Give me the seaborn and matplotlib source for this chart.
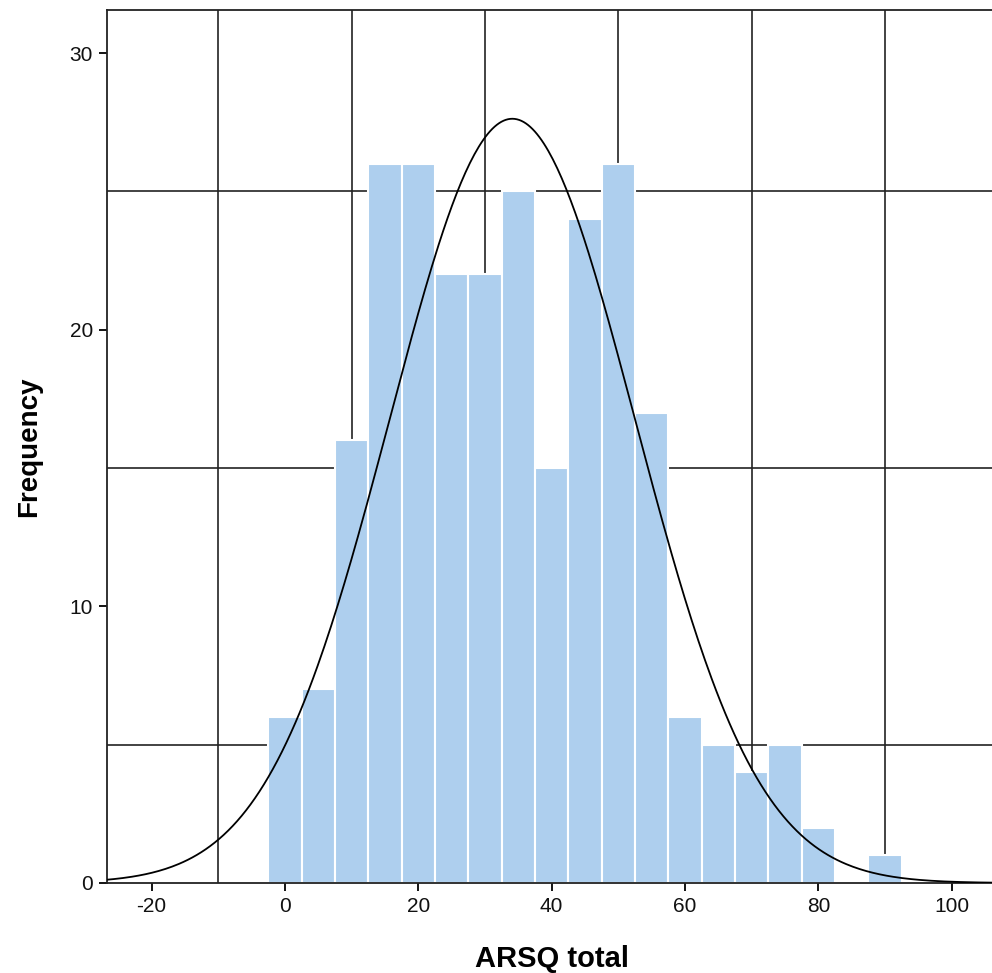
import numpy as np
import pandas as pd
import matplotlib.pyplot as plt
import seaborn as sns
from matplotlib.ticker import MultipleLocator

# bin centres (width 5) and counts
bin_centers = [0, 5, 10, 15, 20, 25, 30, 35, 40, 45, 50, 55, 60, 65, 70, 75, 80, 85, 90]
counts = [6, 7, 16, 26, 26, 22, 22, 25, 15, 24, 26, 17, 6, 5, 4, 5, 2, 0, 1]
bin_width = 5

x_ticks = [-20, 0, 20, 40, 60, 80, 100]
y_ticks = [0, 10, 20, 30]

df = pd.DataFrame({'ARSQ total': bin_centers, 'n': counts})

sns.set_style('white')
plt.rcParams['font.family'] = 'Liberation Sans'
plt.rcParams['axes.unicode_minus'] = False

fig = plt.figure(figsize=(9.92, 9.73), dpi=100)
ax = fig.add_axes([107 / 992, 90 / 973, 885 / 992, 873 / 973])

sns.histplot(data=df, x='ARSQ total', weights='n', binwidth=bin_width,
             binrange=(bin_centers[0] - bin_width / 2, bin_centers[-1] + bin_width / 2),
             ax=ax, color='#aecfee', alpha=1, edgecolor='white', linewidth=1.5, zorder=2)

# normal curve fitted to the data
N = sum(counts)
mean = np.average(bin_centers, weights=counts)
sd = np.sqrt(np.sum(np.array(counts) * (np.array(bin_centers) - mean) ** 2) / (N - 1))
xs = np.linspace(-27, 107, 400)
ys = N * bin_width * np.exp(-0.5 * ((xs - mean) / sd) ** 2) / (sd * np.sqrt(2 * np.pi))
sns.lineplot(x=xs, y=ys, ax=ax, color='black', linewidth=1.3, zorder=3)

ax.set_xlim(-26.7, 106.05)
ax.set_ylim(0, 31.56)
ax.set_xticks(x_ticks)
ax.set_yticks(y_ticks)
ax.xaxis.set_minor_locator(MultipleLocator(20, offset=10))
ax.yaxis.set_minor_locator(MultipleLocator(10, offset=5))
ax.grid(which='minor', color='#222222', linewidth=1.2)
ax.grid(which='major', visible=False)
ax.set_axisbelow(True)

ax.tick_params(which='major', direction='out', length=6, width=1.3, color='black',
               labelcolor='#111111', labelsize=15, pad=4, bottom=True, left=True)
ax.tick_params(which='minor', length=0)
for side in ['left', 'bottom', 'top']:
    ax.spines[side].set_color('#222222')
    ax.spines[side].set_linewidth(1.3)
ax.spines['right'].set_visible(False)

ax.set_xlabel('ARSQ total', fontsize=21, fontweight='bold', color='black')
ax.set_ylabel('Frequency', fontsize=20, fontweight='bold', color='black')
ax.xaxis.set_label_coords(0.503, -0.071)
ax.yaxis.set_label_coords(-0.0734, 0.5)

fig.savefig('out.png', dpi=100)
